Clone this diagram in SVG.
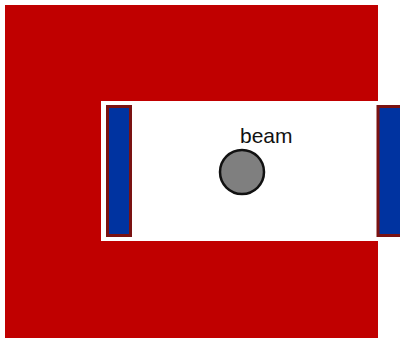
<svg xmlns="http://www.w3.org/2000/svg" width="400" height="338" viewBox="0 0 400 338">
<style>
.bar{fill:#0033a0;stroke:#7a1212;stroke-width:3}
</style>
<rect width="400" height="338" fill="#ffffff"/>
<g id="magnet">
<rect x="5" y="5" width="373" height="333" fill="#c00000"/>
<rect x="101" y="101" width="299" height="140" fill="#ffffff"/>
</g>
<g id="left-plate"><rect class="bar" x="107.5" y="106.5" width="23" height="129"/></g>
<g id="right-plate"><rect class="bar" x="378" y="106.5" width="25" height="129"/></g>
<g id="beam">
<circle cx="242" cy="172" r="22" fill="#7f7f7f" stroke="#111111" stroke-width="2.5"/>
<text x="240" y="143" font-family="Liberation Sans, Arial, sans-serif" font-size="21" fill="#111111">beam</text>
</g>
<g id="connectors"/>
</svg>
